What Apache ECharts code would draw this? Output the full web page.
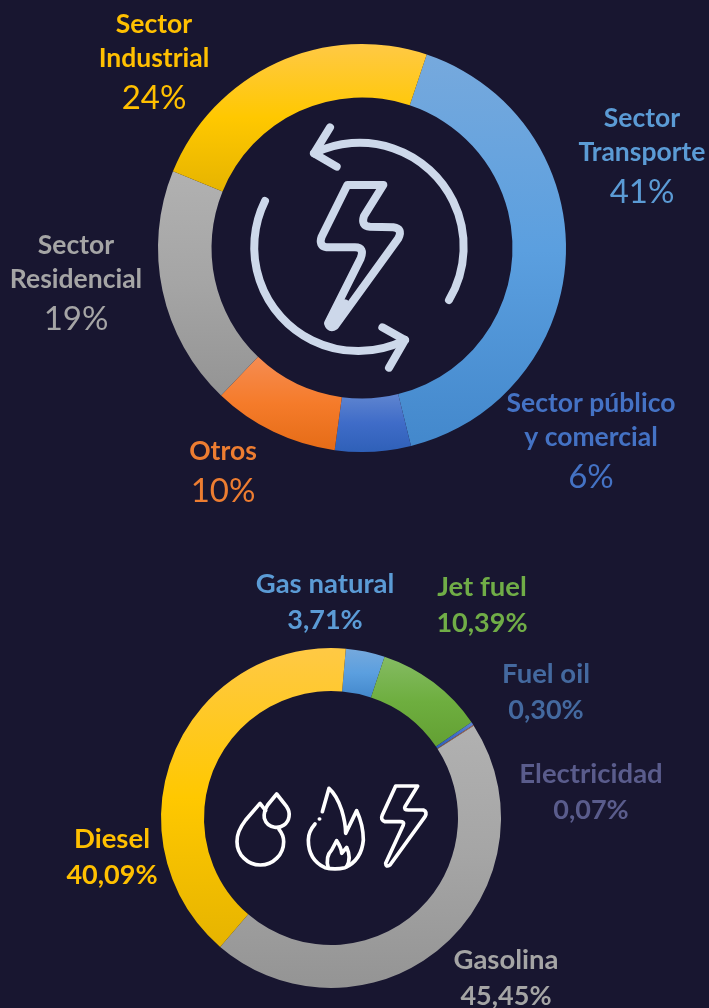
<!DOCTYPE html>
<html>
<head>
<meta charset="utf-8">
<script src="https://cdn.jsdelivr.net/npm/echarts@6/dist/echarts.min.js"></script>
<style>
  html, body { margin: 0; padding: 0; background: #181630; }
  #chart { width: 709px; height: 1008px; }
</style>
</head>
<body>
<div id="chart"></div>
<script>
// upper ring: consumption by sector
const sectorNames = ['Sector\nTransporte', 'Sector público\ny comercial', 'Otros', 'Sector\nResidencial', 'Sector\nIndustrial']
const sectorValues = [41, 6, 10, 19, 24]

// lower ring: consumption by fuel
const fuelNames = ['Gas natural', 'Jet fuel', 'Fuel oil', 'Electricidad', 'Gasolina', 'Diesel']
const fuelValues = [3.71, 10.39, 0.30, 0.07, 45.45, 40.09]

// [top, middle, bottom] of each slice's gradient
const ramps = {
  blue: ['#76a9dd', '#5b9fdf', '#4388cc'],
  navy: ['#5f85d0', '#3f6cc8', '#2f60b8'],
  orange: ['#f58c52', '#f57b2a', '#e56c17'],
  grey: ['#b1b1b1', '#a5a5a5', '#949494'],
  yellow: ['#ffc945', '#ffc800', '#e6b400'],
  green: ['#85bb63', '#6eae3f', '#63a033'],
  rust: ['#c0704a', '#b5693f', '#a86035']
}
const sectorRamps = ['blue', 'navy', 'orange', 'grey', 'yellow']
const sectorText = ['#5b9bd5', '#4472c4', '#ed7d31', '#a5a5a5', '#ffc000']
const fuelRamps = ['blue', 'green', 'navy', 'rust', 'grey', 'yellow']
const fuelText = ['#5b9bd5', '#70ad47', '#44699f', '#5a5c8c', '#a5a5a5', '#ffc000']

// label block centres, same order as the data
const sectorSpots = [[642, 158], [591, 443], [223, 474], [76, 285], [154, 64]]
const fuelSpots = [[325, 602], [482, 605], [546, 692], [591, 792], [506, 978], [112, 857]]

const FONT = 'Lato, "Open Sans", sans-serif'

function ramp(name) {
  const c = ramps[name]
  return {
    type: 'linear', x: 0, y: 0, x2: 0, y2: 1,
    colorStops: [{ offset: 0, color: c[0] }, { offset: 0.5, color: c[1] }, { offset: 1, color: c[2] }]
  }
}

function rows(names, values, rampNames, textColors, fmt) {
  return names.map((n, i) => ({
    name: n,
    value: values[i],
    itemStyle: { color: ramp(rampNames[i]) },
    label: {
      color: textColors[i],
      formatter: n.split('\n').map(t => '{' + fmt.nameKey + '|' + t + '}').join('\n') + '\n{' + fmt.key + '|' + fmt.text(values[i]) + '}'
    }
  }))
}

function ring(center, radius, startAngle, data, spots) {
  return {
    type: 'pie',
    silent: true,
    center: center,
    radius: radius,
    startAngle: startAngle,
    avoidLabelOverlap: false,
    data: data,
    labelLine: { show: false },
    label: {
      show: true,
      position: 'outside',
      align: 'center',
      fontFamily: FONT,
      rich: {
        n: { fontFamily: FONT, fontSize: 26.5, fontWeight: 'bold', lineHeight: 34 },
        m: { fontFamily: FONT, fontSize: 27.5, fontWeight: 'bold', lineHeight: 36 },
        b: { fontFamily: FONT, fontSize: 27, fontWeight: 'bold', lineHeight: 36 },
        p: { fontFamily: FONT, fontSize: 33, lineHeight: 46 }
      }
    },
    labelLayout: p => ({
      x: spots[p.dataIndex][0],
      y: spots[p.dataIndex][1],
      align: 'center',
      verticalAlign: 'middle',
      hideOverlap: false
    })
  }
}

// icons are traced at 3x, then scaled down
const cycleIcon = [
  'M492 340 A312 312 0 0 1 897 780',
  'M540 262 L492 340 L560 380',
  'M345 483 A312 312 0 0 0 765 900',
  'M697 862 L765 900 L717 983',
  'M592 435 L700 435 L642 528 Q632 558 660 560 L730 562 Q760 566 745 595 L555 858 Q540 868 534 850 L632 655 Q645 622 615 622 L530 622 Q505 618 515 590 Z',
  'M552 850 L585 790'
]
const fuelIcon = [
  'M122 122 L105 100 L62 150 Q35 185 36 215 A70 70 0 0 0 176 215 Q176 195 162 178',
  'M155 72 L185 110 Q195 125 192 140 A38 38 0 0 1 118 145 Q115 125 128 105 Z',
  'M292 125 L312 55 Q335 75 350 120 Q362 160 362 190 L395 122 Q415 165 415 210 Q410 270 360 293 Q330 300 300 293 Q250 270 250 210 Q250 185 270 162',
  'M283 147 L284 147',
  'M310 295 Q300 260 320 240 L335 212 Q350 235 350 250 L365 232 Q380 265 365 290',
  'M512 48 L578 48 L540 110 Q535 120 550 120 L595 120 Q608 125 600 140 L495 285 Q482 293 482 280 L535 165 Q540 155 525 155 L480 155 Q465 150 472 135 Z'
]

// the graphic component has no plain svg path type, so register each one
function iconParts(paths, prefix, x, y, color, width) {
  return paths.map((d, i) => {
    const type = prefix + i
    echarts.graphic.registerShape(type, echarts.graphic.extendPath(d, {}))
    return {
      type: type,
      x: x, y: y, scaleX: 1 / 3, scaleY: 1 / 3,
      silent: true,
      style: { fill: null, stroke: color, lineWidth: width, lineCap: 'round', lineJoin: 'round' }
    }
  })
}

const chart = echarts.init(document.getElementById('chart'))
chart.setOption({
  backgroundColor: '#181630',
  animation: false,
  graphic: {
    elements: iconParts(cycleIcon, 'cycle', 150, 40, '#cdd8ea', 24)
      .concat(iconParts(fuelIcon, 'fuel', 225, 770, '#ffffff', 11))
  },
  series: [
    ring([362, 248], [150.5, 204], 71.5,
      rows(sectorNames, sectorValues, sectorRamps, sectorText, { nameKey: 'n', key: 'p', text: v => v + '%' }), sectorSpots),
    ring([331, 818], [127, 170], 85,
      rows(fuelNames, fuelValues, fuelRamps, fuelText, { nameKey: 'm', key: 'b', text: v => v.toFixed(2).replace('.', ',') + '%' }), fuelSpots)
  ]
})
</script>
</body>
</html>
